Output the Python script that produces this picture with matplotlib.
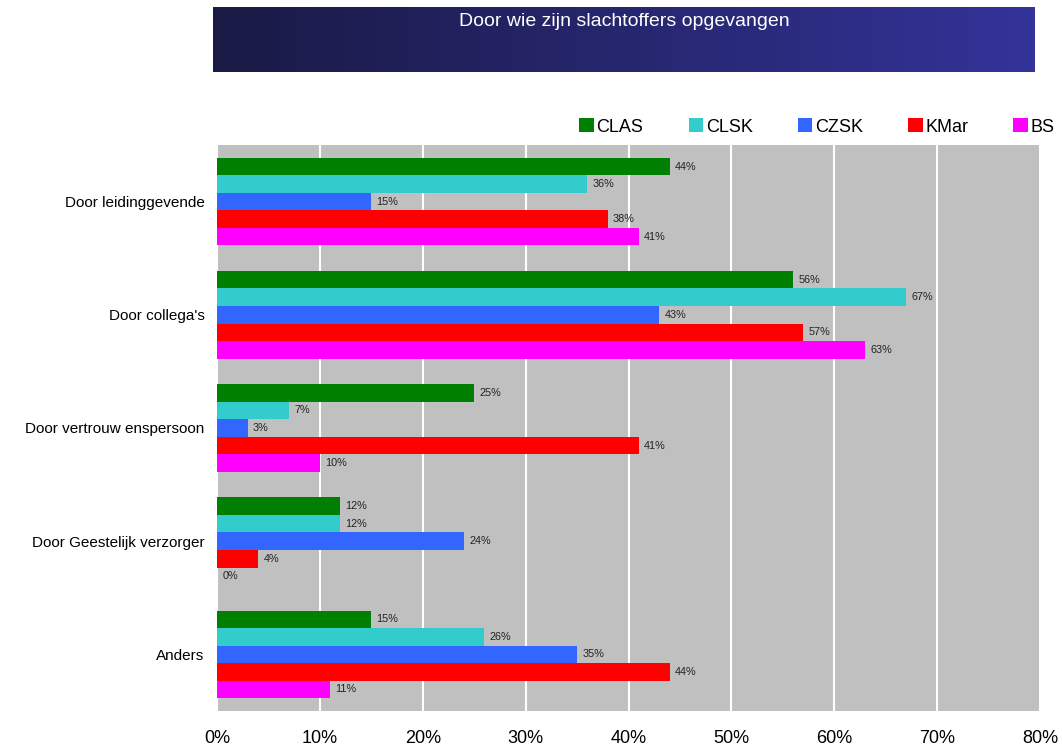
import matplotlib
matplotlib.use("Agg")
import matplotlib.pyplot as plt
import numpy as np
from matplotlib.colors import LinearSegmentedColormap

categories = ["Door leidinggevende", "Door collega's", "Door vertrouw enspersoon",
              "Door Geestelijk verzorger", "Anders"]
series_names = ["CLAS", "CLSK", "CZSK", "KMar", "BS"]
CLAS = [44, 56, 25, 12, 15]
CLSK = [36, 67, 7, 12, 26]
CZSK = [15, 43, 3, 24, 35]
KMar = [38, 57, 41, 4, 44]
BS = [41, 63, 10, 0, 11]
values = [CLAS, CLSK, CZSK, KMar, BS]
colors = ["#008000", "#33cccc", "#3366ff", "#ff0000", "#ff00ff"]
xticks = [0, 10, 20, 30, 40, 50, 60, 70, 80]

plt.rcParams['font.family'] = ['Liberation Sans', 'DejaVu Sans']

fig = plt.figure(figsize=(10.62, 7.49), dpi=100)
ax = fig.add_axes([217/1062, 1-711/749, (1040-217)/1062, (711-145)/749])
ax.set_facecolor("#c0c0c0")
for s in ax.spines.values():
    s.set_visible(False)

n = len(categories)
bh = 0.155
for j, (name, vals, c) in enumerate(zip(series_names, values, colors)):
    ys = np.arange(n) + (j - 2) * bh
    ax.barh(ys, vals, height=bh, color=c, label=name, zorder=3)
    for y, v in zip(ys, vals):
        ax.text(v + 0.5, y, f"{v}%", va="center", ha="left", fontsize=7.8,
                color="#222222", zorder=4)

ax.set_ylim(n - 0.5, -0.5)
ax.set_xlim(0, 80)
ax.set_yticks(np.arange(n))
ax.set_yticklabels(categories, fontsize=11)
ax.set_xticks(xticks)
ax.set_xticklabels([f"{t}%" for t in xticks], fontsize=13)
ax.tick_params(axis='both', length=0)
ax.tick_params(axis='x', pad=14)
ax.tick_params(axis='y', pad=9)
ax.grid(axis='x', color='white', linewidth=1.5, zorder=1)
ax.set_axisbelow(True)

leg = fig.legend(loc='center', bbox_to_anchor=(817/1062, 1-127/749), ncol=5,
                 frameon=False, fontsize=13, handlelength=0.8, handleheight=0.8,
                 handletextpad=0.15, columnspacing=2.5)

# Title banner with gradient
bax = fig.add_axes([213/1062, 1-72/749, (1035-213)/1062, 65/749])
grad = np.linspace(0, 1, 256).reshape(1, -1)
cmap = LinearSegmentedColormap.from_list("b", ["#1a1a45", "#333399"])
bax.imshow(grad, aspect='auto', cmap=cmap, extent=[0, 1, 0, 1])
bax.set_xlim(0, 1); bax.set_ylim(0, 1)
bax.axis('off')
bax.text(0.5, 0.77, "Door wie zijn slachtoffers opgevangen", color='white',
         ha='center', va='center', fontsize=14)

fig.savefig("out.png", dpi=100)
